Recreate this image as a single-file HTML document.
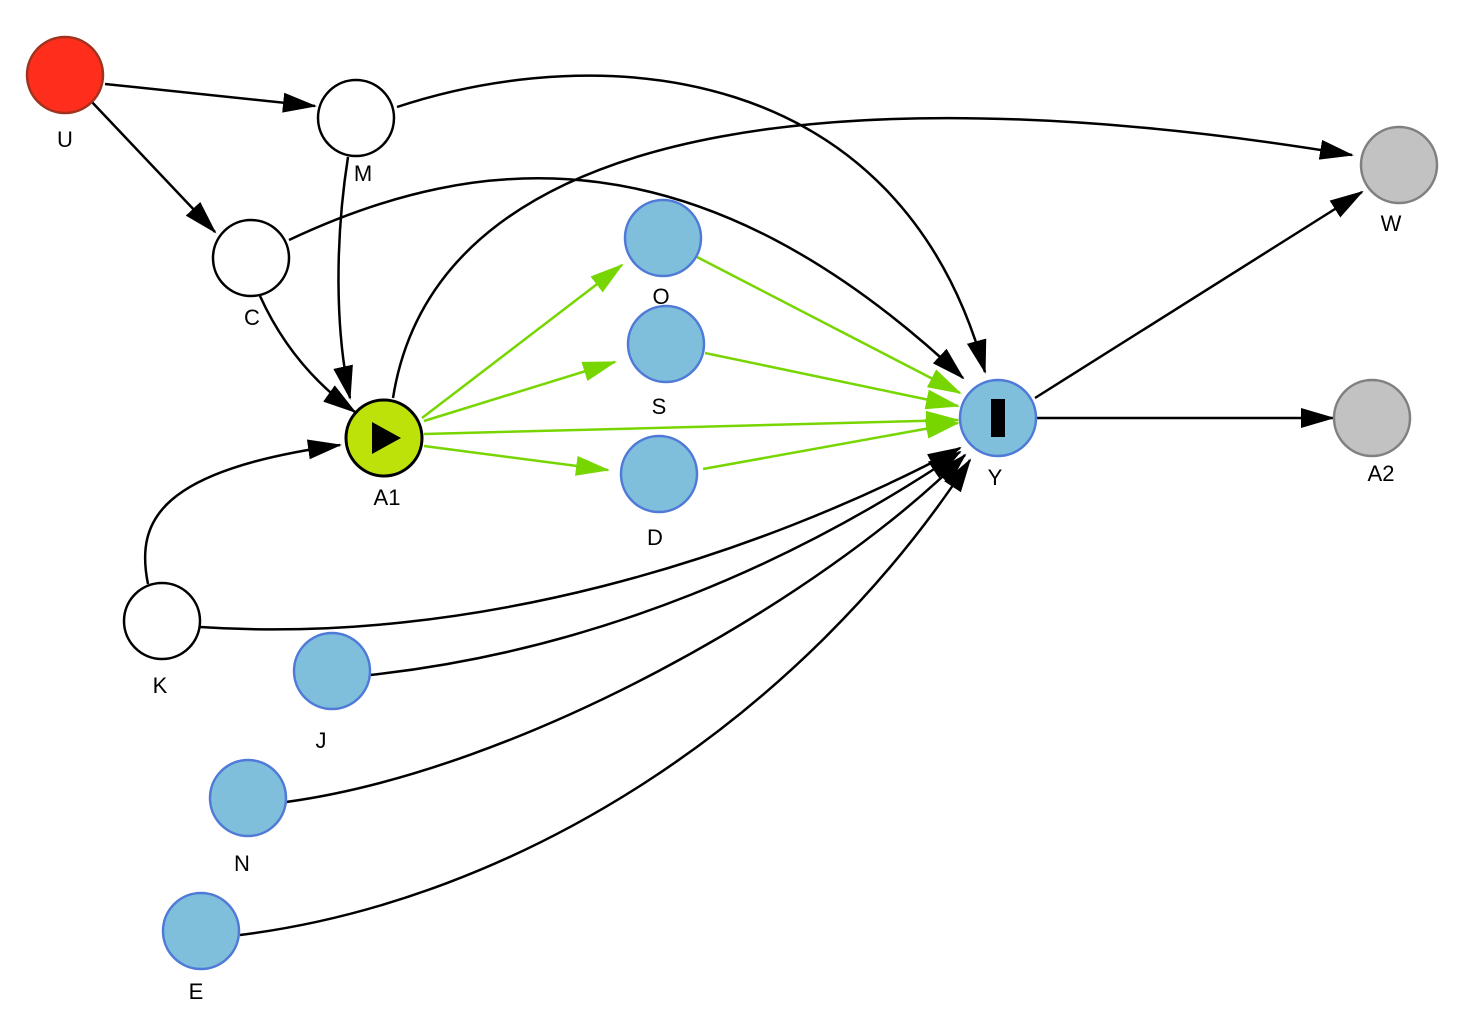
<!DOCTYPE html>
<html><head><meta charset="utf-8"><style>body{margin:0;background:#fff}svg{display:block}text{font-family:"Liberation Sans",sans-serif;font-size:22px;text-anchor:middle}</style></head>
<body>
<svg width="1474" height="1034" viewBox="0 0 1474 1034">
<defs>
<marker id="bb" markerWidth="34" markerHeight="20" refX="32" refY="10" orient="auto" markerUnits="userSpaceOnUse" viewBox="0 0 34 20"><path d="M0,0 L34,10 L0,20 Z" fill="#000"/></marker>
<marker id="g" markerWidth="34" markerHeight="20" refX="32" refY="10" orient="auto" markerUnits="userSpaceOnUse" viewBox="0 0 34 20"><path d="M0,0 L34,10 L0,20 Z" fill="#77d600"/></marker>
</defs>
<g fill="none" stroke="#000" stroke-width="2.5" marker-end="url(#bb)">
<path d="M105,84 L315,106"/>
<path d="M90,100 L215,232"/>
<path d="M397,107 C600,40 900,60 985,372"/>
<path d="M348,157 C335,240 335,330 350,398"/>
<path d="M289,240 C480,150 700,130 963,378"/>
<path d="M260,296 C280,340 310,380 355,412"/>
<path d="M393,398 C440,100 900,80 1352,155"/>
<path d="M148,584 C135,520 160,470 340,445"/>
<path d="M200,627 C470,645 750,560 960,448"/>
<path d="M370,675 C600,650 800,560 960,452"/>
<path d="M286,802 C520,770 820,600 965,455"/>
<path d="M240,935 C520,900 800,720 970,460"/>
<path d="M1035,398 L1362,192"/>
<path d="M1037,418 L1333,418"/>
</g>
<g fill="none" stroke="#77d600" stroke-width="2.5" marker-end="url(#g)">
<path d="M422,418 L622,265"/>
<path d="M424,421 L615,362"/>
<path d="M424,434 L958,420"/>
<path d="M424,446 L608,470"/>
<path d="M697,257 L960,393"/>
<path d="M705,353 L958,406"/>
<path d="M703,469 L958,423"/>
</g>
<g stroke-width="2.5">
<circle cx="65" cy="75" r="38" fill="#ff2d1c" stroke="#a0321e"/>
<circle cx="356" cy="118" r="38" fill="#fff" stroke="#000"/>
<circle cx="251" cy="258" r="38" fill="#fff" stroke="#000"/>
<circle cx="162" cy="621" r="38" fill="#fff" stroke="#000"/>
<circle cx="384" cy="438" r="38" fill="#bde20a" stroke="#000" stroke-width="3"/>
<g fill="#7fbfdb" stroke="#4f7ad8">
<circle cx="663" cy="238" r="38"/>
<circle cx="666" cy="344" r="38"/>
<circle cx="659" cy="474" r="38"/>
<circle cx="998" cy="418" r="38"/>
<circle cx="332" cy="671" r="38"/>
<circle cx="248" cy="798" r="38"/>
<circle cx="201" cy="931" r="38"/>
</g>
<circle cx="1399" cy="165" r="38" fill="#c2c2c2" stroke="#808080"/>
<circle cx="1372" cy="418" r="38" fill="#c2c2c2" stroke="#808080"/>
</g>
<path d="M372,422 L372,454 L401,438 Z" fill="#000"/>
<rect x="991" y="399" width="14" height="38" fill="#000"/>
<text x="65" y="147">U</text>
<text x="363" y="181">M</text>
<text x="252" y="325">C</text>
<text x="387" y="505">A1</text>
<text x="661" y="304">O</text>
<text x="659" y="414">S</text>
<text x="655" y="545">D</text>
<text x="995" y="485">Y</text>
<text x="1391" y="231">W</text>
<text x="1381" y="481">A2</text>
<text x="160" y="693">K</text>
<text x="321" y="748">J</text>
<text x="242" y="871">N</text>
<text x="196" y="999">E</text>
</svg>
</body></html>
